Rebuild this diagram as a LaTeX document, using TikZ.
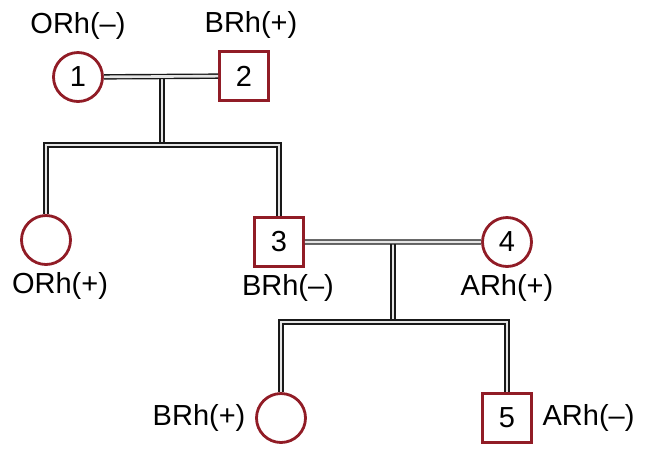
\documentclass[tikz,border=0pt]{standalone}
\usepackage{fontspec}
\setmainfont{Liberation Sans}
\definecolor{pedred}{RGB}{145,28,38}

\begin{document}
\begin{tikzpicture}[x=0.02cm,y=-0.02cm,
        female/.style={
        circle, draw=pedred, line width=1.6pt,
        inner sep=0pt, minimum size=0.98cm},
        male/.style={
        rectangle, draw=pedred, line width=1.6pt,
        inner sep=0pt, minimum size=0.98cm},
        link/.style={draw=black!90, line width=0.8pt,
        double=white!90!black, double distance=1.5pt},
        every label/.style={font=\fontsize{16.5}{19}\selectfont},
        every node/.style={font=\fontsize{16.5}{19}\selectfont},
        ]
        \useasboundingbox (0,0) rectangle (650,458);

        \node (p1) [female, label = {[label distance=3pt]above: ORh(--)}]  at (78,77){1};
        \node (p2) [male, label = {[label distance=3pt, xshift=0.14cm]above: BRh(+)}]  at (244,76){2};
        \node (c1) [female, label = {[xshift=0.28cm]below: ORh(+)}]  at (46,240){};
        \node (p3) [male, label = {[xshift=0.18cm]below: BRh(--)}]  at (279,242){3};
        \node (p4) [female, label = {below: ARh(+)}]  at (507,242){4};
        \node (c2) [female, label = {[label distance=2pt]left: BRh(+)}]  at (281,418){};
        \node (p5) [male, label = {[label distance=2pt]right: ARh(--)}]  at (507,418){5};

        \coordinate (m12) at (162,76);
        \coordinate (s12) at (162,145);
        \coordinate (m34) at (393,242);
        \coordinate (s34) at (393,322);

        \draw [link] (m12) -- (s12) (m34) -- (s34);
        \draw [link] (p1) -- (p2) (p3) -- (p4);
        \draw [link] (c1.north) |- (s12) -| (p3.north);
        \draw [link] (c2.north) |- (s34) -| (p5.north);
    \end{tikzpicture}
\end{document}
